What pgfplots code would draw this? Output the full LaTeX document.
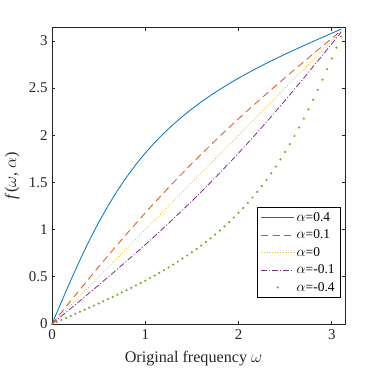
\documentclass[border=0pt]{standalone}
\usepackage{fontspec}
\setmainfont{Liberation Serif}
\usepackage{pgfplots}
\pgfplotsset{compat=1.18}
\usetikzlibrary{calc}

\definecolor{mblue}{RGB}{0,114,189}
\definecolor{morange}{RGB}{217,83,25}
\definecolor{myellow}{RGB}{237,177,32}
\definecolor{mpurple}{RGB}{126,47,142}
\definecolor{mgreen}{RGB}{119,172,48}
\definecolor{axgray}{RGB}{38,38,38}

\pgfplotsset{
  leg/.style={legend image code/.code={\draw[##1, draw=#1, line width=0.9bp] (0bp,0bp) -- (33bp,0bp);}},
  dotlegend/.style={legend image code/.code={\draw[##1] plot coordinates {(16.5bp,0bp)};}},
}

\begin{document}
\begin{tikzpicture}
\begin{axis}[
  scale only axis,
  width=293bp, height=296.5bp,
  xmin=0, xmax=3.14159, ymin=0, ymax=3.14159,
  xtick={0,1,2,3},
  ytick={0,0.5,1,1.5,2,2.5,3},
  tick align=inside,
  major tick length=3.5bp,
  axis line style={axgray, line width=0.7bp},
  every tick/.style={axgray, line width=0.7bp},
  /pgf/number format/assume math mode=true,
  tick label style={font=\fontsize{15}{17}\selectfont, text=axgray},
  xticklabel style={yshift=-2bp},
  yticklabel style={xshift=-1bp},
  label style={font=\fontsize{16.2}{19}\selectfont, text=axgray},
  xlabel={Original frequency $\omega$},
  xlabel style={at={(rel axis cs:0.5,0)}, anchor=north, yshift=-24bp, xshift=-5bp},
  ylabel={\textit{f}($\omega$, $\alpha$)},
  ylabel style={at={(rel axis cs:0,0.5)}, anchor=south, yshift=29bp},
  legend style={at={(0.986,0.088)}, anchor=south east, draw=black,
    line width=0.6bp, font=\fontsize{13.5}{15.5}\selectfont,
    inner xsep=4bp, inner ysep=3bp, row sep=3bp},
  legend cell align=left,
  every axis plot/.append style={line width=0.8bp},
]
% alpha = 0.4
\addplot[mblue, solid, leg=mblue] coordinates {
  (0,0)(0.05,0.1166)(0.10,0.2325)(0.15,0.3471)(0.20,0.4600)(0.25,0.5704)
  (0.30,0.6781)(0.35,0.7826)(0.40,0.8836)(0.45,0.9810)(0.50,1.0747)
  (0.60,1.2504)(0.70,1.4110)(0.80,1.5572)(0.90,1.6902)(1.00,1.8112)
  (1.10,1.9215)(1.20,2.0223)(1.30,2.1149)(1.40,2.2002)(1.50,2.2793)
  (1.60,2.3528)(1.70,2.4214)(1.80,2.4860)(1.90,2.5468)(2.00,2.6045)
  (2.10,2.6595)(2.20,2.7121)(2.30,2.7627)(2.40,2.8114)(2.50,2.8587)
  (2.60,2.9048)(2.70,2.9498)(2.80,2.9940)(2.90,3.0376)(3.00,3.0808)
  (3.10,3.1238)
};
\addlegendentry{$\alpha$=0.4}
% alpha = 0.1
\addplot[morange, dash pattern=on 7bp off 4.5bp, leg=morange] coordinates {
  (0,0)(0.1,0.1222)(0.2,0.2441)(0.3,0.3653)(0.4,0.4857)(0.5,0.6050)
  (0.6,0.7229)(0.7,0.8393)(0.8,0.9539)(0.9,1.0667)(1.0,1.1774)
  (1.1,1.2862)(1.2,1.3928)(1.3,1.4974)(1.4,1.5998)(1.5,1.7003)
  (1.6,1.7987)(1.7,1.8952)(1.8,1.9899)(1.9,2.0828)(2.0,2.1742)
  (2.1,2.2640)(2.2,2.3524)(2.3,2.4397)(2.4,2.5257)(2.5,2.6107)
  (2.6,2.6949)(2.7,2.7784)(2.8,2.8612)(2.9,2.9436)(3.0,3.0257)
  (3.1,3.1076)
};
\addlegendentry{$\alpha$=0.1}
% alpha = 0
\addplot[myellow, dash pattern=on 0.8bp off 1.9bp, leg=myellow] coordinates {
  (0,0)(3.1,3.1)
};
\addlegendentry{$\alpha$=0}
% alpha = -0.1
\addplot[mpurple, dash pattern=on 6bp off 2bp on 1bp off 2bp, leg=mpurple] coordinates {
  (0,0)(0.1,0.0818)(0.2,0.1638)(0.3,0.2461)(0.4,0.3287)(0.5,0.4119)
  (0.6,0.4958)(0.7,0.5805)(0.8,0.6661)(0.9,0.7528)(1.0,0.8407)
  (1.1,0.9299)(1.2,1.0206)(1.3,1.1129)(1.4,1.2068)(1.5,1.3026)
  (1.6,1.4002)(1.7,1.4998)(1.8,1.6014)(1.9,1.7050)(2.0,1.8108)
  (2.1,1.9187)(2.2,2.0286)(2.3,2.1407)(2.4,2.2544)(2.5,2.3701)
  (2.6,2.4874)(2.7,2.6061)(2.8,2.7261)(2.9,2.8470)(3.0,2.9687)
  (3.1,3.0908)
};
\addlegendentry{$\alpha$=-0.1}
% alpha = -0.4
\addplot[mgreen, only marks, mark=*, mark size=0.65bp, dotlegend]
  coordinates {
  (0,0)(0.05,0.0214)(0.10,0.0429)(0.15,0.0644)(0.20,0.0860)(0.25,0.1076)
  (0.30,0.1294)(0.35,0.1513)(0.40,0.1733)(0.45,0.1956)(0.50,0.2180)
  (0.55,0.2407)(0.60,0.2636)(0.65,0.2868)(0.70,0.3104)(0.75,0.3343)
  (0.80,0.3585)(0.85,0.3832)(0.90,0.4083)(0.95,0.4339)(1.00,0.4600)
  (1.05,0.4866)(1.10,0.5139)(1.15,0.5418)(1.20,0.5704)(1.25,0.5998)
  (1.30,0.6299)(1.35,0.6609)(1.40,0.6929)(1.45,0.7258)(1.50,0.7597)
  (1.55,0.7948)(1.60,0.8312)(1.65,0.8688)(1.70,0.9078)(1.75,0.9483)
  (1.80,0.9904)(1.85,1.0342)(1.90,1.0798)(1.95,1.1274)(2.00,1.1771)
  (2.05,1.2290)(2.10,1.2833)(2.15,1.3402)(2.20,1.3997)(2.25,1.4621)
  (2.30,1.5277)(2.35,1.5961)(2.40,1.6681)(2.45,1.7435)(2.50,1.8226)
  (2.55,1.9054)(2.60,1.9920)(2.65,2.0824)(2.70,2.1767)(2.75,2.2747)
  (2.80,2.3764)(2.85,2.4814)(2.90,2.5896)(2.95,2.7005)(3.00,2.8136)
  (3.05,2.9285)(3.10,3.0446)
};
\addlegendentry{$\alpha$=-0.4}
\end{axis}
\path ($(current axis.south west)+(-52bp,-48bp)$) rectangle ($(current axis.north east)+(37bp,27.5bp)$);
\end{tikzpicture}
\end{document}
